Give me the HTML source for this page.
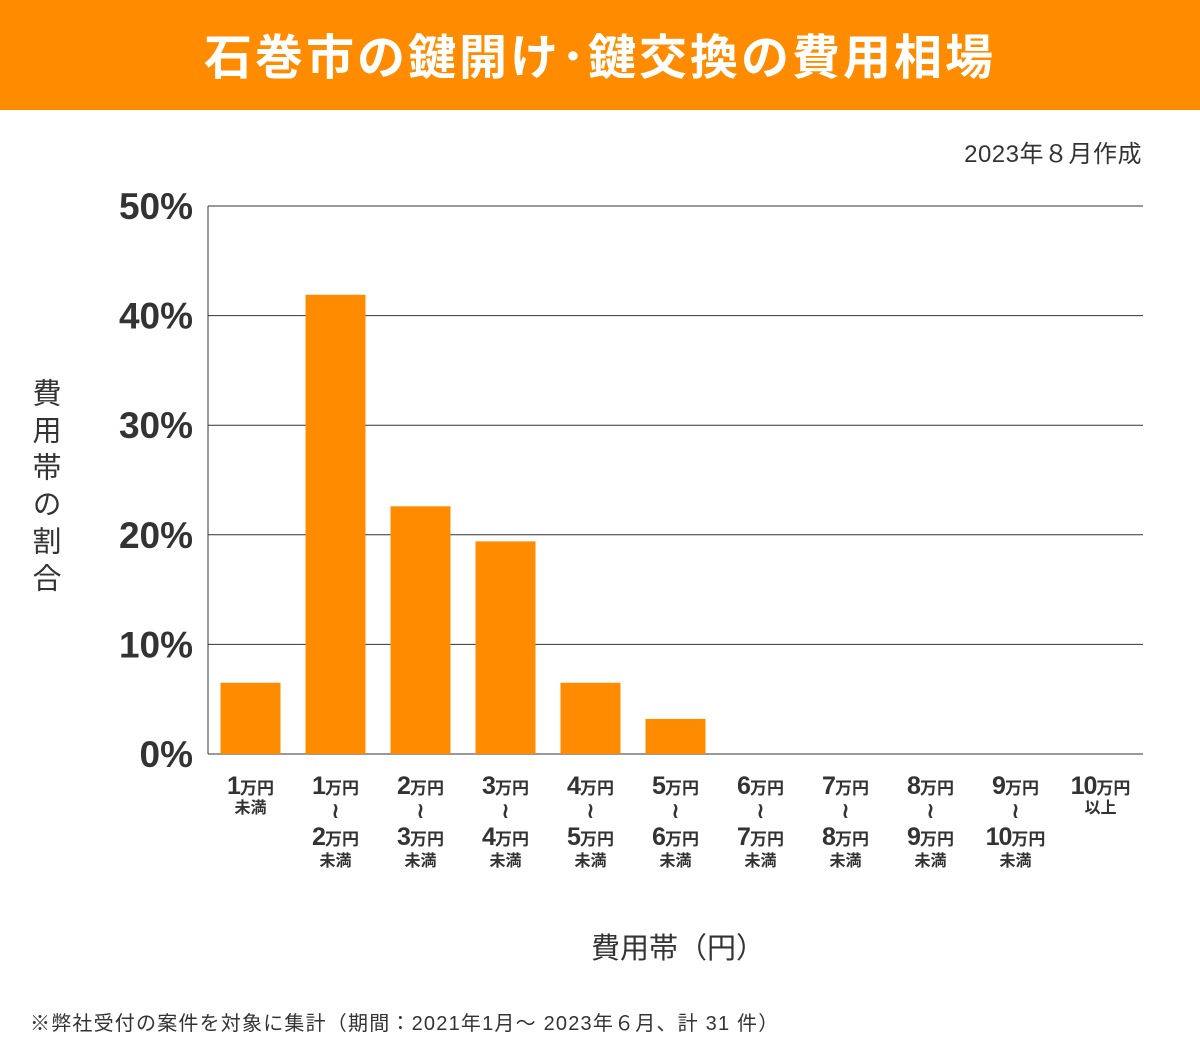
<!DOCTYPE html>
<html><head><meta charset="utf-8">
<style>
body{margin:0;width:1200px;height:1041px;background:#fff;font-family:"Liberation Sans","Noto Sans CJK JP",sans-serif;overflow:hidden}
#hdr{position:absolute;left:0;top:0;width:1200px;height:110px;background:#ff8c00;color:#fff;font-size:48px;font-weight:bold;text-align:center;line-height:118px;letter-spacing:3px}
</style></head><body>
<div id="hdr">石巻市の鍵開け･鍵交換の費用相場</div>
<svg id="c" width="1200" height="1041" style="position:absolute;left:0;top:0"></svg>
<script>
const categories=[["1","未満"],["1","2"],["2","3"],["3","4"],["4","5"],["5","6"],["6","7"],["7","8"],["8","9"],["9","10"],["10","以上"]];
const values=[6.5,41.9,22.6,19.4,6.5,3.2,0,0,0,0,0];
const yTicks=[0,10,20,30,40,50];
const yTickLabels=["0%","10%","20%","30%","40%","50%"];
const svg=document.getElementById('c');
const NS='http://www.w3.org/2000/svg';
const x0=208,x1=1143,y0=754,y1=206,yMax=50;
const bw=(x1-x0)/categories.length;
const y=v=>y0-(v/yMax)*(y0-y1);
const xc=i=>x0+bw*(i+0.5);
function el(t,a,txt){const e=document.createElementNS(NS,t);for(const k in a)e.setAttribute(k,a[k]);if(txt!=null)e.textContent=txt;svg.appendChild(e);return e;}
const F='"Liberation Sans","Noto Sans CJK JP",sans-serif';
yTicks.forEach((t,i)=>{
 const g=el('line',{x1:x0,x2:x1,y1:y(t),y2:y(t),stroke:'#333','stroke-width':1});
 
 
 const l=el('text',{x:193,y:y(t)+13,'text-anchor':'end','font-size':37,'font-weight':'bold',fill:'#333','font-family':F},yTickLabels[i]);
 
 
});
const ax=el('line',{x1:x0,x2:x0,y1:y1,y2:y0,stroke:'#333','stroke-width':1});


values.forEach((v,i)=>{
 if(v>0){const r=el('rect',{x:xc(i)-30,y:y(v),width:60,height:y0-y(v),fill:'#ff8c00'});
 
 }
});
function lab(cx,by,num,unit){
 const t=el('text',{x:cx,y:by,'text-anchor':'middle','font-family':F,'font-weight':'bold',fill:'#333'});
 
 
 const a=document.createElementNS(NS,'tspan');a.setAttribute('font-size','25');a.setAttribute('letter-spacing','-1');a.textContent=num;t.appendChild(a);
 const b=document.createElementNS(NS,'tspan');b.setAttribute('font-size','17');b.textContent=unit;t.appendChild(b);
}
function small(cx,by,s){const t=el('text',{x:cx,y:by,'text-anchor':'middle','font-family':F,'font-weight':'bold','font-size':16,fill:'#333'},s);
 
 }
categories.forEach((c,i)=>{
 const cx=xc(i);
 lab(cx,794,c[0],'万円');
 if(c[1]==='未満'||c[1]==='以上'){small(cx,813,c[1]);}
 else{
  const w=el('text',{x:cx,y:818,'text-anchor':'middle','font-size':22,'font-weight':'bold',fill:'#333','font-family':'"DejaVu Sans",sans-serif'},'≀');
  
  
  lab(cx,845,c[1],'万円');small(cx,866,'未満');
 }
});
const yt=el('text',{x:44,y:378,'font-size':29,fill:'#333','font-family':F,'writing-mode':'tb','glyph-orientation-vertical':0,'letter-spacing':8},'費用帯の割合');


const xt=el('text',{x:678,y:958,'text-anchor':'middle','font-size':29,fill:'#333','font-family':F},'費用帯（円）');


const d=el('text',{x:1142,y:162,'text-anchor':'end','font-size':24,fill:'#333','font-family':F,'letter-spacing':0.5},'2023年８月作成');


const fn=el('text',{x:30,y:1030,'font-size':20,fill:'#333','font-family':F,'letter-spacing':1.2},'※弊社受付の案件を対象に集計（期間：2021年1月～ 2023年６月、計 31 件）');


</script>
</body></html>
